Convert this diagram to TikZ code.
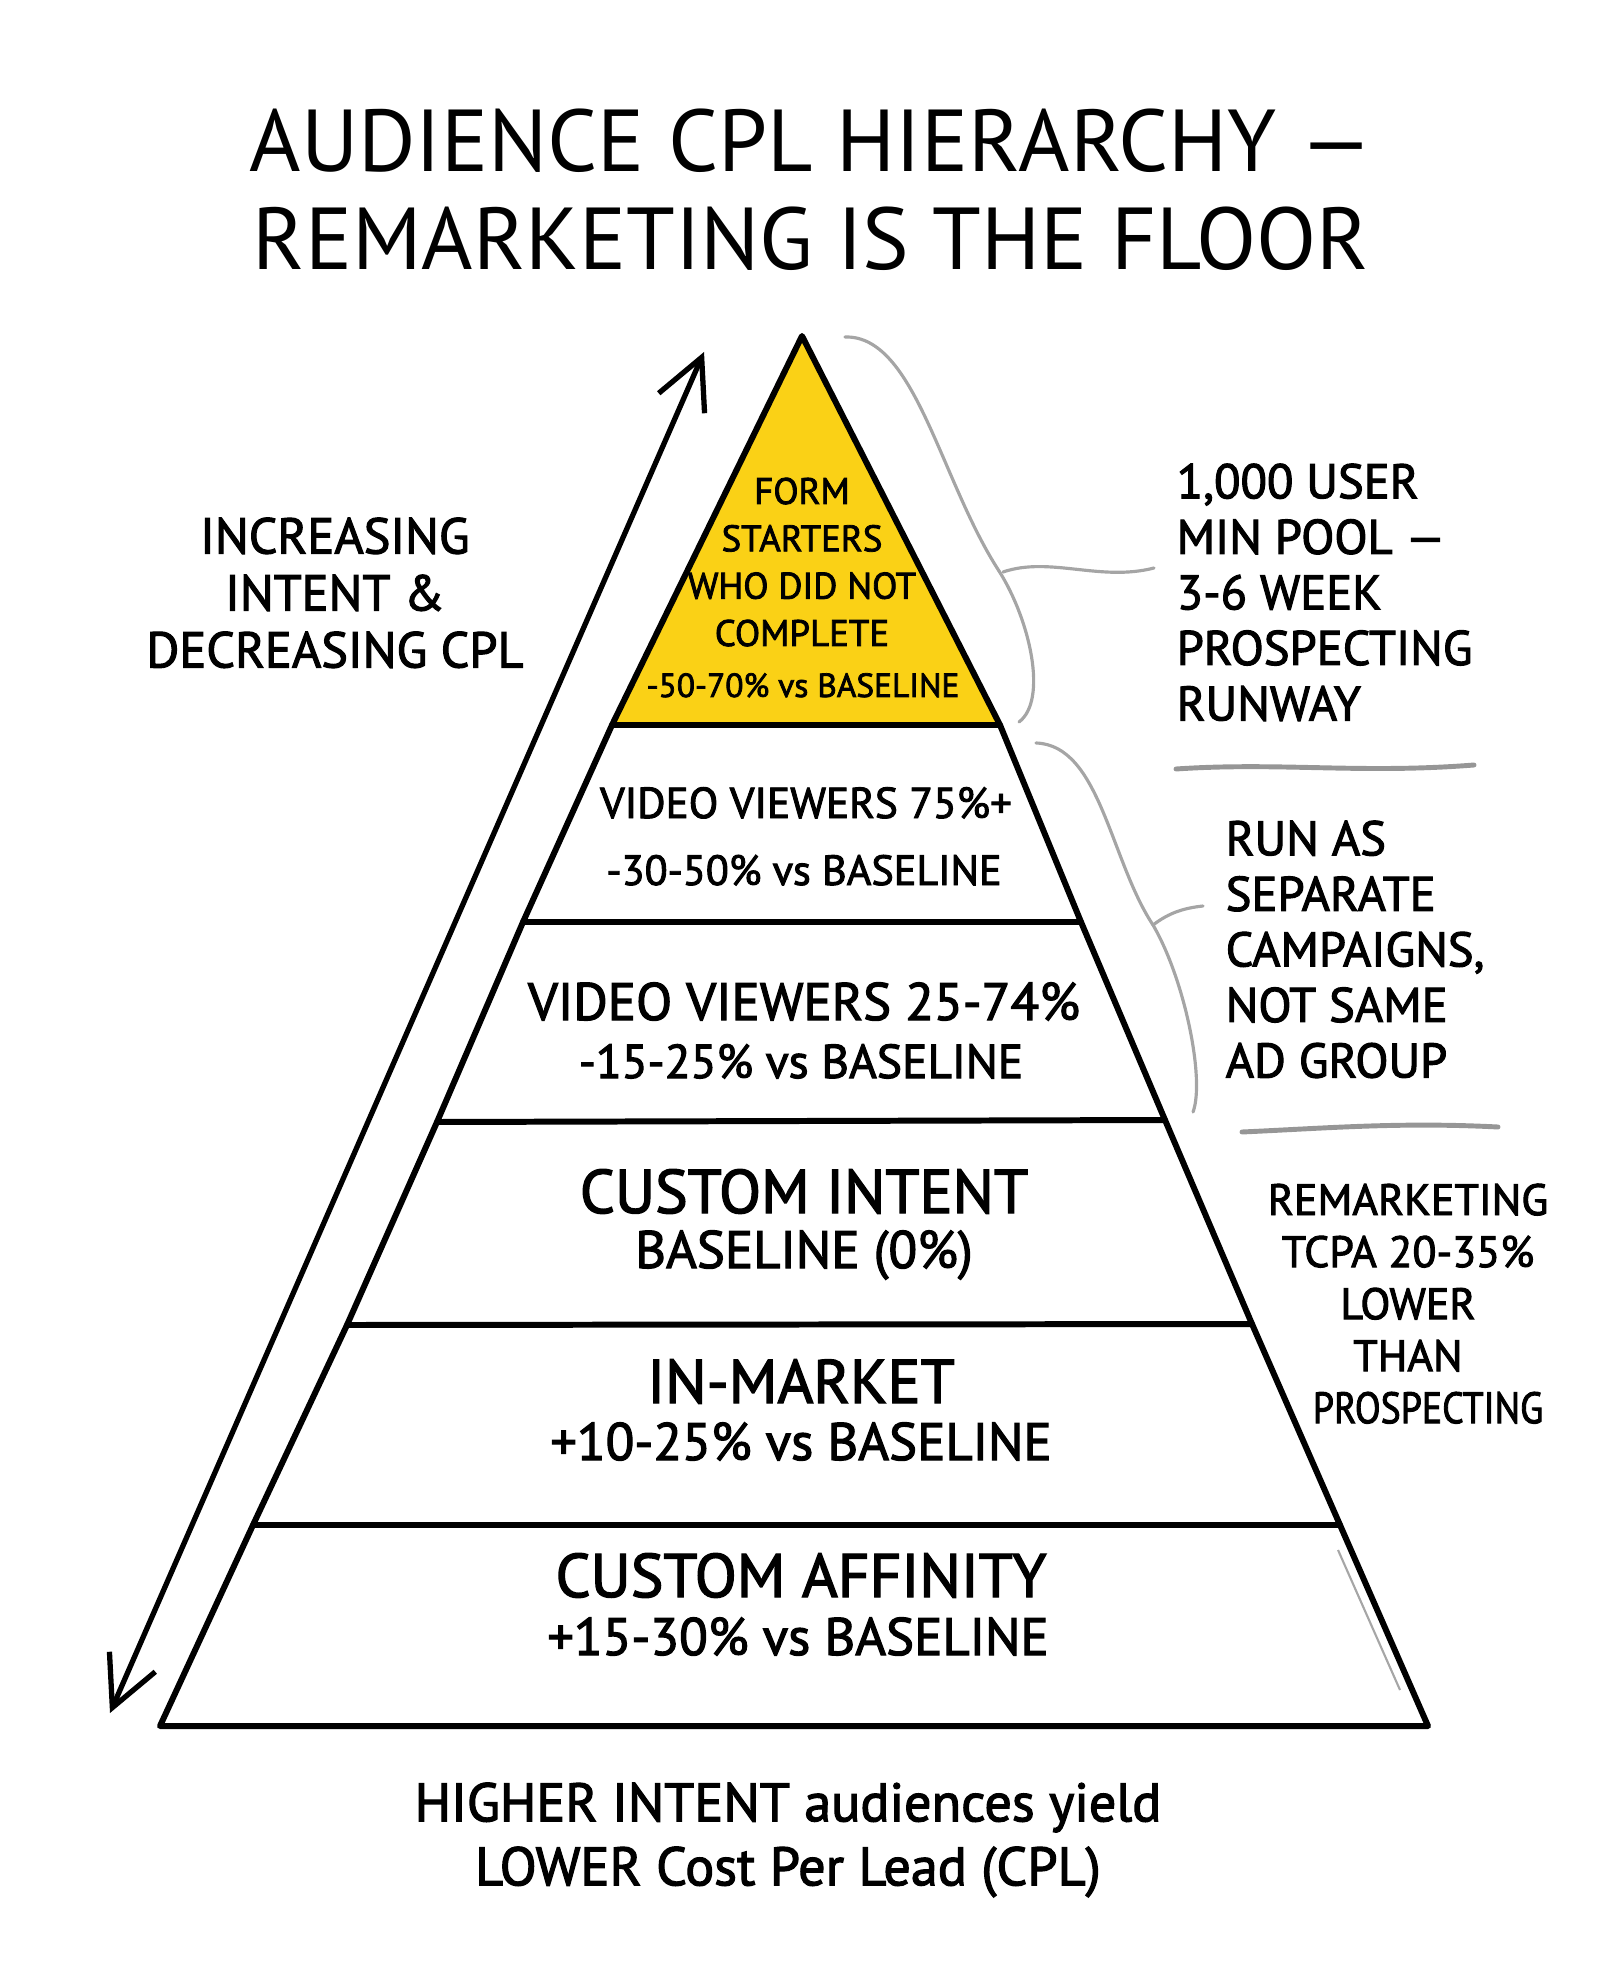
\documentclass[tikz,border=0pt]{standalone}
\usepackage{fontspec}
\setmainfont{PT Sans}
\newfontfamily\markerfont{PT Sans}[FakeBold=2.2]
\usetikzlibrary{arrows.meta,positioning}
\definecolor{formyellow}{RGB}{250,209,22}
\definecolor{bracegray}{RGB}{165,165,165}
\definecolor{sepgray}{RGB}{150,150,150}
\newcommand{\fsz}[2]{\fontsize{#1pt}{#2pt}\selectfont}

\begin{document}
\begin{tikzpicture}[
  x=0.01cm,y=-0.01cm,
  every node/.style={inner sep=0pt,text=black},
  edge/.style={line width=1.7pt,line join=round,line cap=round},
  band/.style={line width=1.7pt,line cap=round},
  brace/.style={draw=bracegray,line width=0.9pt,line cap=round},
  sep/.style={draw=sepgray,line width=1.4pt,line cap=round},
  dblarr/.style={line width=1.5pt,line cap=round,
                 {Straight Barb[length=5mm,width=5mm]}-{Straight Barb[length=5mm,width=5mm]}},
  titletext/.style={anchor=north,align=center,font=\fsz{25}{27.9}},
  tier/.style={anchor=base,font=\markerfont\fsz{17.5}{21}},
  tiersub/.style={anchor=base,font=\markerfont\fsz{15}{18}},
  midtier/.style={anchor=base,font=\markerfont\fsz{15}{18}},
  midsub/.style={anchor=base,font=\markerfont\fsz{13.5}{16}},
  toptier/.style={anchor=base,font=\markerfont\fsz{12.3}{15}},
  topsub/.style={anchor=base,font=\markerfont\fsz{12}{15}},
  note/.style={anchor=north west,align=left,font=\markerfont\fsz{13.8}{15.8}}]
\useasboundingbox (0,0) rectangle (1600,1986);
%--- Pyramid corners ---
\coordinate (apex) at (802,336);
\coordinate (l1) at (612,725);  \coordinate (r1) at (1000,725);
\coordinate (l2) at (523,922);  \coordinate (r2) at (1081,922);
\coordinate (l3) at (437,1122); \coordinate (r3) at (1165,1120);
\coordinate (l4) at (347,1325); \coordinate (r4) at (1252,1324);
\coordinate (l5) at (253,1525); \coordinate (r5) at (1340,1525);
\coordinate (l6) at (160,1726); \coordinate (r6) at (1428,1726);
%--- Pyramid ---
\fill[formyellow] (apex)--(r1)--(l1)--cycle;
\draw[gray!70,line width=0.6pt] (1338,1550)--(1400,1690);
\draw[edge] (l6)--(l5)--(l4)--(l3)--(l2)--(l1)--(apex)--(r1)--(r2)--(r3)--(r4)--(r5)--(r6)--cycle;
\draw[band] (l1)--(r1);
\draw[band] (l2)--(r2);
\draw[band] (l3)--(r3);
\draw[band] (l4)--(r4);
\draw[band] (l5)--(r5);
%--- Title ---
\node[titletext] (title) at (811,108) {AUDIENCE CPL HIERARCHY —\\REMARKETING IS THE FLOOR};
%--- Tiers ---
\node[anchor=north,align=center,font=\markerfont\fsz{10.5}{13.46}] (form) at (802,477)
  {FORM\\STARTERS\\WHO DID NOT\\COMPLETE};
\node[anchor=base,font=\markerfont\fsz{9.5}{12}] (formsub) at (803,697) {-50-70\% vs BASELINE};
\node[toptier] (vv75)    at (806,818)  {VIDEO VIEWERS 75\%+};
\node[topsub]  (vv75sub) at (804,885)  {-30-50\% vs BASELINE};
\node[midtier] (vv25)    at (804,1020) {VIDEO VIEWERS 25-74\%};
\node[midsub]  (vv25sub) at (801,1078) {-15-25\% vs BASELINE};
\node[tier]    (ci)      at (804,1213) {CUSTOM INTENT};
\node[tiersub] (cisub)   at (804,1268) {BASELINE (0\%)};
\node[tier]    (im)      at (801,1403) {IN-MARKET};
\node[tiersub] (imsub)   at (801,1460) {+10-25\% vs BASELINE};
\node[tier]    (ca)      at (801,1597) {CUSTOM AFFINITY};
\node[tiersub] (casub)   at (798,1655) {+15-30\% vs BASELINE};
%--- Intent arrow ---
\coordinate (arrlo) at (110,1713);
\coordinate (arrhi) at (704,352);
\draw[dblarr] (arrlo)--(arrhi);
\node[anchor=north,align=center,font=\markerfont\fsz{14.3}{16.2}] (intent) at (335,517)
  {INCREASING\\INTENT \&\\DECREASING CPL};
%--- Side notes ---
\node[note] (pool) at (1176,463) {1,000 USER\\MIN POOL —\\3-6 WEEK\\PROSPECTING\\RUNWAY};
\node[note] (runsep) at (1225,820) {RUN AS\\SEPARATE\\CAMPAIGNS,\\NOT SAME\\AD GROUP};
\node[anchor=north,align=center,font=\markerfont\fsz{12.5}{14.8}] (tcpa) at (1408,1183)
  {REMARKETING\\TCPA 20-35\%\\LOWER\\THAN\\\hspace*{0.4cm}\scalebox{0.86}[1]{PROSPECTING}};
%--- Braces and separators ---
\draw[brace] (845,337) .. controls (915,335) and (940,480) .. (999,571);
\draw[brace] (999,571) .. controls (1030,620) and (1048,700) .. (1019,722);
\draw[brace] (1003,572) .. controls (1050,556) and (1100,582) .. (1154,568);
\draw[brace] (1036,743) .. controls (1100,745) and (1110,860) .. (1153,925);
\draw[brace] (1153,925) .. controls (1185,980) and (1205,1080) .. (1193,1112);
\draw[brace] (1153,925) .. controls (1170,912) and (1185,908) .. (1203,906);
\draw[sep] (1176,769) .. controls (1280,762) and (1360,774) .. (1474,765);
\draw[sep] (1242,1132) .. controls (1330,1128) and (1400,1122) .. (1498,1127);
%--- Footer ---
\node[anchor=north,align=center,font=\markerfont\fsz{15.4}{18.2}] (footer) at (788,1782)
  {HIGHER INTENT audiences yield\\LOWER Cost Per Lead (CPL)};
\end{tikzpicture}
\end{document}
